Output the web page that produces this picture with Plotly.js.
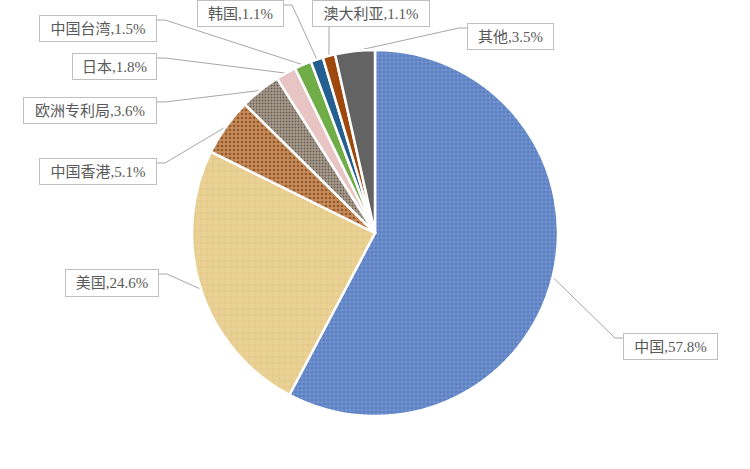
<!DOCTYPE html>
<html>
<head>
<meta charset="utf-8">
<script src="https://cdn.plot.ly/plotly-3.0.1.min.js"></script>
<style>html,body{margin:0;padding:0;background:#fff;}#chart{width:750px;height:469px;}</style>
</head>
<body>
<div id="chart"></div>
<script>
// ---- data ----
const categories = ["中国", "美国", "中国香港", "欧洲专利局", "日本", "中国台湾", "韩国", "澳大利亚", "其他"];
const shares = [57.8, 24.6, 5.1, 3.6, 1.8, 1.5, 1.1, 1.1, 3.5];

// ---- styles ----
const sliceColors = ["#5b7fc1", "#ead194", "#c58b59", "#a89d8f", "#e9c4c4", "#70ad47", "#255e91", "#9e480e", "#636363"];
const patternShapes = ["+", "+", ".", ".", "", "", "", "", ""];
const patternFg = ["#86a6de", "#d9bd78", "#94582c", "#6c6054", "#dcb0b0", "#70ad47", "#255e91", "#9e480e", "#636363"];
const patternSize = [4, 6, 4, 3, 4, 4, 4, 4, 4];
const patternSolidity = [0.25, 0.12, 0.35, 0.35, 0.2, 0.2, 0.2, 0.2, 0.2];

// ---- layout geometry (pixels) ----
const W = 750, H = 469;
const CX = 375, CY = 233, R = 183;
// label boxes: [left, top, width, height, side]  side: where the leader line attaches
const boxes = [
  [623, 333, 95, 27, "left"],   // 中国
  [65, 269, 94, 28, "right"],   // 美国
  [39, 158, 118, 27, "right"],  // 中国香港
  [23, 97, 134, 27, "right"],   // 欧洲专利局
  [72, 53, 85, 27, "right"],    // 日本
  [39, 15, 118, 27, "right"],   // 中国台湾
  [197, 0, 87, 27, "right"],    // 韩国
  [312, 0, 118, 27, "bottom"],  // 澳大利亚
  [467, 23, 87, 27, "left"]     // 其他
];

const total = shares.reduce((a, b) => a + b, 0);
let cum = 0;
const annotations = [];
const shapes = [];
const font = {family: "Liberation Serif, 'Noto Sans CJK SC', serif", size: 15, color: "#595959"};
categories.forEach((c, i) => {
  const mid = (cum + shares[i] / 2) / total * 2 * Math.PI;
  cum += shares[i];
  const px = CX + R * Math.sin(mid);
  const py = CY - R * Math.cos(mid);
  const [bl, bt, bw, bh, side] = boxes[i];
  annotations.push({
    xref: "x", yref: "y", x: bl, y: bt, xanchor: "left", yanchor: "top",
    text: c + "," + shares[i].toFixed(1) + "%", showarrow: false,
    width: bw - 2, height: bh - 2, borderpad: 0,
    bordercolor: "#bfbfbf", borderwidth: 1, bgcolor: "#ffffff",
    font: font, align: "center", valign: "middle"
  });
  let path;
  if (side === "left") {
    const ay = bt + 5;
    path = `M ${bl} ${ay} L ${bl - 8} ${ay} L ${px} ${py}`;
  } else if (side === "right") {
    const ay = bt + 5;
    path = `M ${bl + bw} ${ay} L ${bl + bw + 8} ${ay} L ${px} ${py}`;
  } else {
    const ax = bl + 17;
    path = `M ${ax} ${bt + bh} L ${px} ${py}`;
  }
  shapes.push({type: "path", xref: "x", yref: "y", path: path, line: {color: "#a6a6a6", width: 1}, layer: "below"});
});

const trace = {
  type: "pie",
  labels: categories,
  values: shares,
  sort: false,
  direction: "clockwise",
  rotation: 0,
  textinfo: "none",
  hoverinfo: "label+percent",
  domain: {x: [(CX - R) / W, (CX + R) / W], y: [(H - CY - R) / H, (H - CY + R) / H]},
  marker: {
    colors: sliceColors,
    line: {color: "#ffffff", width: 2.5},
    pattern: {shape: patternShapes, fgcolor: patternFg, bgcolor: sliceColors, size: patternSize, solidity: patternSolidity}
  },
  showlegend: false
};

const layout = {
  width: W, height: H,
  margin: {l: 0, r: 0, t: 0, b: 0},
  paper_bgcolor: "#ffffff", plot_bgcolor: "rgba(0,0,0,0)",
  xaxis: {range: [0, W], visible: false, fixedrange: true},
  yaxis: {range: [H, 0], visible: false, fixedrange: true},
  showlegend: false,
  annotations: annotations,
  shapes: shapes
};

Plotly.newPlot("chart", [trace], layout, {displayModeBar: false, staticPlot: true});
</script>
</body>
</html>
